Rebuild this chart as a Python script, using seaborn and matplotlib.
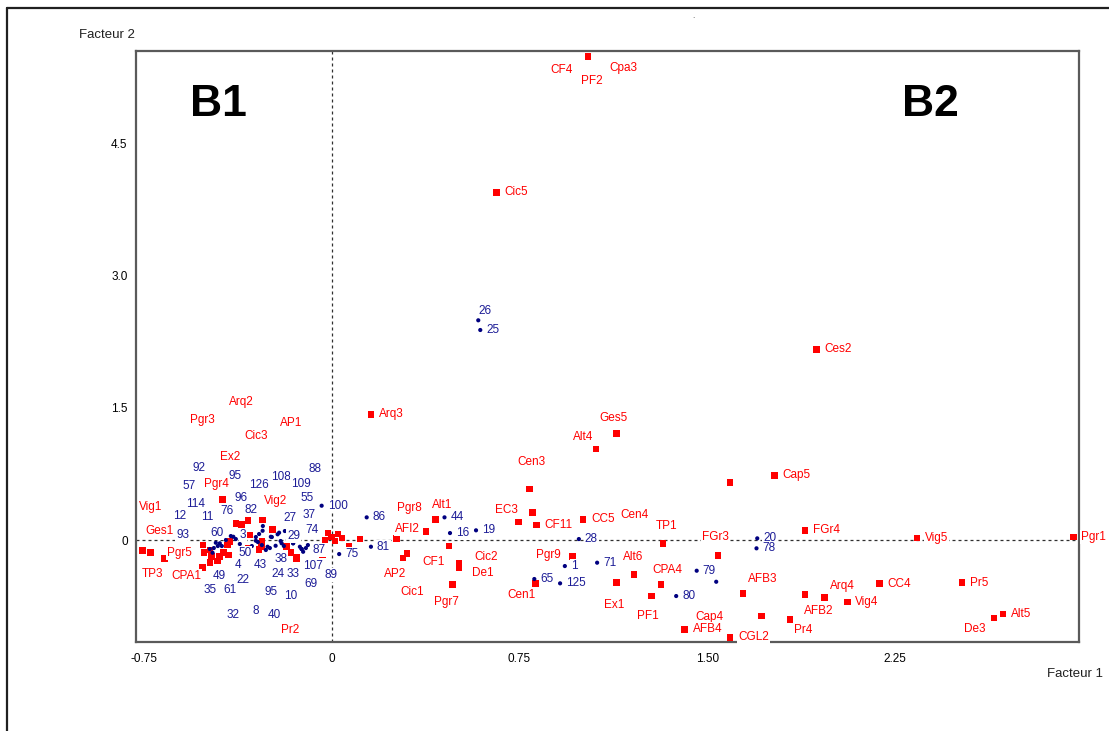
import matplotlib
matplotlib.use("Agg")
import matplotlib.pyplot as plt
import seaborn as sns
import pandas as pd
from matplotlib.lines import Line2D

# ---------------------------------------------------------------
# Modalités actives : coordonnées sur les facteurs 1 et 2
# ---------------------------------------------------------------
mod_names = [
    "CF4", "PF2", "Cpa3", "Cic5", "Arq3", "Ces2", "Cap5", "Cen4", "FGr4", "Vig5",
    "Pgr1", "Pr5", "CC4", "Vig4", "Arq4", "AFB2", "AFB3", "Pr4", "Cap4", "Alt5",
    "De3", "AFB4", "CGL2", "FGr3", "TP1", "CPA4", "PF1", "Alt6", "Ex1", "Ges5",
    "Alt4", "CC5", "Pgr9", "Cen3", "", "EC3", "CF11", "Cen1", "Alt1", "AFI2",
    "Pgr8", "CF1", "Cic2", "De1", "Pgr7", "AP2", "Cic1", "",
    "", "", "", "", "", "", "", "", "",
    "TP3", "Vig1", "Ges1", "Pgr5", "CPA1", "Pgr4", "Ex2", "Pgr3", "Arq2", "Cic3",
    "AP1", "Vig2", "Pr2",
    "", "", "", "", "", "", "", "", "", "", "", "", "", "", "", "", "", "",
]
mod_f1 = [
    1.024, 1.024, 1.024, 0.658, 0.156, 1.937, 1.769, 1.592, 1.890, 2.339,
    2.963, 2.518, 2.189, 2.060, 1.968, 1.890, 1.644, 1.831, 1.717, 2.682,
    2.647, 1.410, 1.592, 1.544, 1.324, 1.315, 1.278, 1.207, 1.138, 1.138,
    1.056, 1.004, 0.962, 0.789, 0.801, 0.745, 0.818, 0.814, 0.414, 0.376,
    0.259, 0.468, 0.508, 0.508, 0.481, 0.285, 0.301, 0.112,
    -0.001, -0.016, 0.024, 0.012, 0.040, -0.028, 0.069, -0.037, -0.048,
    -0.757, -0.725, -0.669, -0.516, -0.517, -0.437, -0.384, -0.361, -0.335, -0.277,
    -0.237, -0.279, -0.164,
    -0.181, -0.141, -0.291, -0.488, -0.481, -0.488, -0.458, -0.450, -0.434,
    -0.414, -0.418, -0.408, -0.461, -0.335, -0.328, -0.512, -0.281, -0.141,
]
mod_f2 = [
    5.480, 5.480, 5.480, 3.942, 1.425, 2.162, 0.734, 0.650, 0.110, 0.023,
    0.034, -0.484, -0.495, -0.703, -0.654, -0.616, -0.604, -0.899, -0.862, -0.836,
    -0.884, -1.012, -1.103, -0.173, -0.037, -0.502, -0.632, -0.389, -0.480, 1.205,
    1.032, 0.235, -0.189, 0.578, 0.310, 0.207, 0.170, -0.491, 0.235, 0.094,
    0.019, -0.068, -0.261, -0.314, -0.502, -0.201, -0.151, 0.011,
    0.037, 0.079, 0.068, -0.011, 0.023, 0.000, -0.065, -0.170, -0.257,
    -0.121, -0.144, -0.212, -0.057, -0.310, 0.461, 0.189, 0.178, 0.219, 0.227,
    0.121, -0.019, -0.144,
    -0.076, -0.196, -0.105, -0.113, -0.189, -0.257, -0.238, -0.189, -0.144,
    -0.170, -0.057, -0.019, -0.371, -0.094, 0.057, -0.144, -0.076, -0.207,
]

# Position des étiquettes déplacées (décalage en pixels, centre du texte) ;
# les autres étiquettes sont écrites à droite du point.
mod_label_shift = {
    "CF4": (-27, 13), "PF2": (4, 24), "Cpa3": (35, 11), "Cen4": (-96, 32),
    "Arq4": (18, -12), "AFB2": (14, 17), "AFB3": (19, -14), "Pr4": (13, 11),
    "Cap4": (-52, 1), "De3": (-19, 11), "FGr3": (-3, -18), "TP1": (3, -17),
    "CPA4": (6, -14), "PF1": (-4, 20), "Alt6": (-1, -17), "Ex1": (-2, 23),
    "Ges5": (-3, -16), "Alt4": (-13, -12), "Pgr9": (-24, -2), "Cen3": (2, -27),
    "EC3": (-12, -12), "Cen1": (-14, 12), "Alt1": (7, -14), "AFI2": (-19, -3),
    "Pgr8": (13, -30), "CF1": (-15, 16), "Cic2": (27, -6), "De1": (24, 5),
    "Pgr7": (-6, 18), "AP2": (-8, 16), "Cic1": (5, 39),
    "TP3": (10, 23), "Vig1": (0, -46), "Ges1": (-5, -28), "Pgr5": (-23, 8),
    "CPA1": (-16, 9), "Pgr4": (-6, -15), "Ex2": (-6, -66), "Pgr3": (-39, -104),
    "Arq2": (-7, -119), "Cic3": (-6, -84), "AP1": (19, -106), "Vig2": (13, -41),
    "Pr2": (-1, 77),
}

# ---------------------------------------------------------------
# Individus (observations) : coordonnées sur les facteurs 1 et 2
# ---------------------------------------------------------------
ind_names = [
    "26", "25", "100", "86", "81", "75", "44", "16", "19", "65",
    "28", "1", "71", "125", "79", "80", "20", "78", "",
    "92", "57", "114", "12", "11", "93", "60", "76", "95", "96",
    "82", "3", "126", "108", "109", "88", "55", "27", "37", "74",
    "29", "87", "50", "38", "107", "4", "43", "49", "22", "24",
    "33", "89", "69", "35", "61", "95", "10", "32", "8", "40",
    "", "",
]
ind_f1 = [
    0.585, 0.593, -0.041, 0.139, 0.156, 0.029, 0.450, 0.472, 0.576, 0.809,
    0.987, 0.931, 1.060, 0.912, 1.458, 1.376, 1.700, 1.697, 1.536,
    -0.464, -0.477, -0.448, -0.472, -0.456, -0.488, -0.404, -0.394, -0.304, -0.291,
    -0.277, -0.304, -0.257, -0.217, -0.188, -0.155, -0.161, -0.211, -0.128, -0.121,
    -0.201, -0.115, -0.248, -0.225, -0.104, -0.280, -0.264, -0.440, -0.320, -0.205,
    -0.155, -0.096, -0.121, -0.424, -0.384, -0.240, -0.176, -0.368, -0.296, -0.192,
    -0.244, -0.276,
]
ind_f2 = [
    2.491, 2.381, 0.389, 0.257, -0.076, -0.159, 0.257, 0.079, 0.110, -0.442,
    0.011, -0.295, -0.257, -0.491, -0.348, -0.635, 0.019, -0.094, -0.473,
    -0.031, -0.144, -0.037, -0.091, -0.068, -0.102, 0.045, 0.037, -0.008, 0.068,
    0.105, 0.034, -0.076, 0.065, 0.102, -0.037, 0.008, 0.083, -0.076, -0.102,
    -0.037, -0.133, -0.091, -0.065, -0.091, -0.057, -0.113, -0.068, -0.068, -0.011,
    -0.037, -0.057, -0.102, 0.000, 0.011, 0.034, 0.000, -0.045, -0.023, -0.068,
    0.037, 0.159,
]
# décalage des étiquettes du nuage central (pixels, centre du texte)
ind_label_shift = [
    (7, -9), None, None, None, None, None, None, None, None, None,
    None, None, None, None, None, None, None, None, None,
    (-17, -75), (-23, -67), (-24, -39), (-34, -32), (-11, -29), (-27, -14),
    (-14, -3), (-6, -26), (-21, -65), (-18, -36),
    (-12, -21), (-13, -2), (-9, -62), (3, -57), (16, -47), (22, -74),
    (15, -41), (11, -15), (9, -32), (10, -19),
    (12, -7), (16, -2), (-25, 5), (5, 13), (7, 18), (-24, 20), (-6, 15),
    (-3, 30), (-9, 34), (-3, 33),
    (0, 31), (23, 30), (9, 35), (-16, 50), (-6, 51), (-1, 55), (3, 56),
    (-7, 71), (-2, 69), (-10, 69),
    None, None,
]

x_ticks = [-0.75, 0, 0.75, 1.50, 2.25]
x_tick_labels = ["-0.75", "0", "0.75", "1.50", "2.25"]
y_ticks = [0, 1.5, 3.0, 4.5]
y_tick_labels = ["0", "1.5", "3.0", "4.5"]

RED = "#ff0000"
NAVY = "#000080"
NAVY_TXT = "#1c1c96"
SPINE = "#5a5a5a"

sns.set_style("white")
plt.rcParams["font.family"] = ["Liberation Sans", "DejaVu Sans"]

mods = pd.DataFrame({"nom": mod_names, "F1": mod_f1, "F2": mod_f2})
inds = pd.DataFrame({"nom": ind_names, "F1": ind_f1, "F2": ind_f2})

fig = plt.figure(figsize=(11.09, 7.31), dpi=100)
ax = fig.add_axes([136 / 1109, 1 - 642 / 731, 943 / 1109, 591 / 731])

# axes de référence en pointillés
ax.axhline(0, color="#303030", lw=0.9, ls=(0, (2.4, 2.4)), zorder=1)
ax.axvline(0, color="#303030", lw=0.9, ls=(0, (2.4, 2.4)), zorder=1)

sns.scatterplot(data=mods, x="F1", y="F2", marker="s", s=22, color=RED,
                edgecolor="none", linewidth=0, ax=ax, legend=False, zorder=3)
sns.scatterplot(data=inds, x="F1", y="F2", marker="o", s=9, color=NAVY,
                edgecolor="none", linewidth=0, ax=ax, legend=False, zorder=4)

box = dict(boxstyle="square,pad=0.08", fc="white", ec="none")


def put_label(txt, x, y, shift, color, right_gap):
    if not txt:
        return
    if shift is None:
        ax.annotate(txt, (x, y), xytext=(right_gap, 0), textcoords="offset pixels",
                    ha="left", va="center", fontsize=8.5, color=color,
                    bbox=box, zorder=6, annotation_clip=False)
    else:
        dx, dy = shift
        ax.annotate(txt, (x, y), xytext=(dx, -dy), textcoords="offset pixels",
                    ha="center", va="center", fontsize=8.5, color=color,
                    bbox=box, zorder=6, annotation_clip=False)


for nm, fx, fy, sh in zip(ind_names, ind_f1, ind_f2, ind_label_shift):
    put_label(nm, fx, fy, sh, NAVY_TXT, 6)
for nm, fx, fy in zip(mod_names, mod_f1, mod_f2):
    put_label(nm, fx, fy, mod_label_shift.get(nm), RED, 8)

ax.set_xlim(-0.783, 2.986)
ax.set_ylim(-1.156, 5.544)
ax.set_xticks(x_ticks)
ax.set_xticklabels(x_tick_labels)
ax.set_yticks(y_ticks)
ax.set_yticklabels(y_tick_labels)
ax.set_xlabel("")
ax.set_ylabel("")
ax.tick_params(axis="x", direction="inout", length=8, width=1, color=SPINE,
               pad=4, labelsize=8.5, labelcolor="black")
ax.tick_params(axis="y", direction="out", length=4, width=1, color=SPINE,
               pad=2, labelsize=8.5, labelcolor="black")
for sp in ax.spines.values():
    sp.set_visible(True)
    sp.set_color(SPINE)
    sp.set_linewidth(1.6)
ax.grid(False)

# groupes de part et d'autre de l'axe 2
ax.text(0.057, 0.910, "B1", transform=ax.transAxes, fontsize=32,
        fontweight="bold", ha="left", va="center", color="black")
ax.text(0.812, 0.910, "B2", transform=ax.transAxes, fontsize=32,
        fontweight="bold", ha="left", va="center", color="black")

fig.text(79 / 1109, 1 - 35 / 731, "Facteur 2", fontsize=9.5, ha="left",
         va="center", color="#202020")
fig.text(1103 / 1109, 1 - 674 / 731, "Facteur 1", fontsize=9.5, ha="right",
         va="center", color="#202020")
fig.text(693 / 1109, 1 - 16 / 731, ".", fontsize=6, ha="center", va="center",
         color="#404040")

# cadre de la fenêtre graphique
fig.add_artist(Line2D([7 / 1109, 1.0], [1 - 8 / 731, 1 - 8 / 731],
                      transform=fig.transFigure, color="#202020", lw=1.6))
fig.add_artist(Line2D([7 / 1109, 7 / 1109], [0.0, 1 - 8 / 731],
                      transform=fig.transFigure, color="#202020", lw=1.6))

fig.savefig("out.png", dpi=100, facecolor="white")
